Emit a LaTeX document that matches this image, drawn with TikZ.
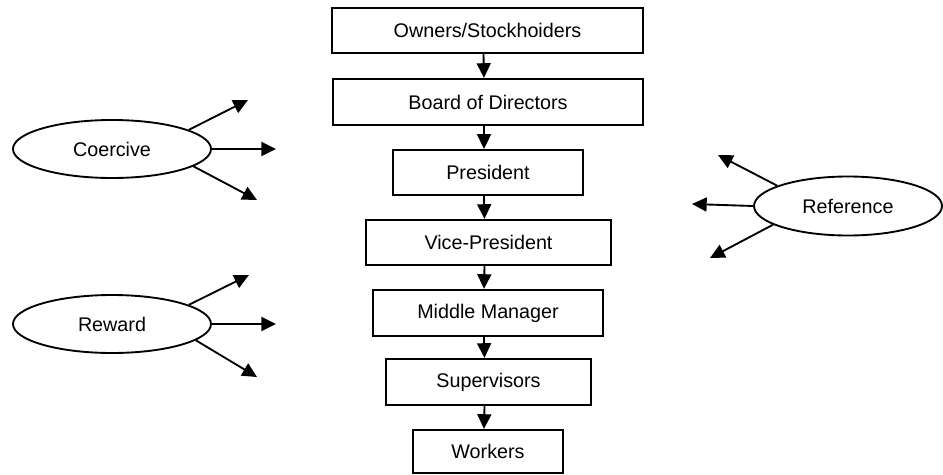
\documentclass[tikz,border=0pt]{standalone}
\usepackage{fontspec}
\setmainfont{Liberation Sans}
\usetikzlibrary{arrows.meta,shapes.geometric}
\begin{document}
\begin{tikzpicture}[x=0.75pt,y=-0.75pt,
  rank/.style={draw, line width=1.7pt, rectangle, inner sep=0pt,
    font=\fontsize{14.8}{17}\selectfont},
  power/.style={draw, line width=1.4pt, ellipse, inner sep=0pt,
    font=\fontsize{14.8}{17}\selectfont},
  link/.style={line width=1.4pt, -{Triangle[length=11pt,width=10.5pt]}}
]
\useasboundingbox (0,0) rectangle (943,475);

% chain of command
\node[rank, minimum width=233.25pt, minimum height=33.75pt] (own)  at (487.5,30.5) {Owners/Stockhoiders};
\node[rank, minimum width=232.5pt,  minimum height=34.5pt]  (bod)  at (488,102)    {Board of Directors};
\node[rank, minimum width=142.5pt,  minimum height=33.75pt] (pres) at (488,172.5)  {President};
\node[rank, minimum width=183.75pt, minimum height=33.75pt] (vp)   at (488.5,242.5){Vice-President};
\node[rank, minimum width=172.5pt,  minimum height=34.5pt]  (mm)   at (488,313)    {Middle Manager};
\node[rank, minimum width=153.75pt, minimum height=34.5pt]  (sup)  at (488.5,382)  {Supervisors};
\node[rank, minimum width=112.5pt,  minimum height=32.25pt] (wk)   at (488,451.5)  {Workers};

\foreach \a/\b in {own/bod, bod/pres, pres/vp, vp/mm, mm/sup, sup/wk}
  \draw[link] ([xshift=-3pt]\a.south) -- ([xshift=-3pt]\b.north);

% sources of power
\node[power, minimum width=148.5pt, minimum height=43.5pt]  (coe) at (112,149) {Coercive};
\node[power, minimum width=148.5pt, minimum height=43.5pt]  (rew) at (112,324) {Reward};
\node[power, minimum width=141pt,   minimum height=44.25pt] (ref) at (848,206) {Reference};

\coordinate (c1) at (248,100);
\coordinate (c2) at (276,149);
\coordinate (c3) at (257,200);
\coordinate (r1) at (249,275);
\coordinate (r2) at (276,324);
\coordinate (r3) at (257,377);
\coordinate (f1) at (718,155);
\coordinate (f2) at (692,204);
\coordinate (f3) at (710,258);

\draw[link] (coe.14)  -- (c1);
\draw[link] (coe.east) -- (c2);
\draw[link] (coe.-12) -- (c3);
\draw[link] (rew.14)  -- (r1);
\draw[link] (rew.east) -- (r2);
\draw[link] (rew.-11) -- (r3);
\draw[link] (ref.164) -- (f1);
\draw[link] (ref.west) -- (f2);
\draw[link] (ref.194) -- (f3);
\end{tikzpicture}
\end{document}
